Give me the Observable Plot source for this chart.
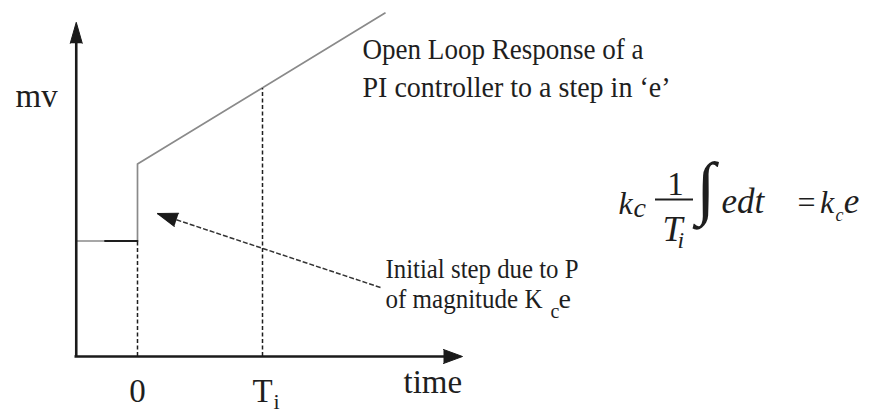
<!DOCTYPE html>
<html>
<head>
<meta charset="utf-8">
<script src="https://cdn.jsdelivr.net/npm/d3@7"></script>
<script src="https://cdn.jsdelivr.net/npm/@observablehq/plot@0.6"></script>
<style>
  html, body { margin: 0; padding: 0; background: #fff; }
  #chart { width: 877px; height: 414px; }
</style>
</head>
<body>
<div id="chart"></div>
<script>
// ---------- data (time in units of Ti, mv in units of kc*e) ----------
const stepTime = [-0.49, 0, 0, 1.98];
const stepMv   = [1.5, 1.5, 2.5, 4.46];
const darkTime = [-0.26, 0];          // darker part of the initial level
const darkMv   = [1.5, 1.5];
const guideTimes = [0, 1];            // dashed verticals at 0 and Ti
const guideMv    = [1.5, 3.48];
const tickTimes  = [0, 1];
const tickLabels = ["0", "T"];
const tickSub    = "i";
const axisOrigin = -0.49, axisEndTime = 2.6, axisTopMv = 4.34;
const axisTitles = ["mv", "time"];
const noteLines  = ["Open Loop Response of a", "PI controller to a step in \u2018e\u2019"];
const stepNote   = ["Initial step due to P", "of magnitude K"];
const pointer    = {t1: 1.944, mv1: 0.896, t2: 0.16, mv2: 1.857};

// ---------- layout ----------
const X0 = 137, X1 = 262, Y0 = 356, Y1 = 279;   // pixel range for domain [0,1]
const sx = X1 - X0, sy = Y0 - Y1;
const ang = (dt, dm) => Math.atan2(dt * sx, dm * sy) * 180 / Math.PI;
const ink = "#1e1e1e";
const serif = "'Liberation Serif', 'Times New Roman', serif";

const step = stepTime.map((t, i) => ({t, mv: stepMv[i]}));
const dark = darkTime.map((t, i) => ({t, mv: darkMv[i]}));
const guides = guideTimes.map((t, i) => ({t, mv: guideMv[i]}));

function txt(s, t, mv, o = {}) {
  return Plot.text([{s, t, mv}], {
    x: "t", y: "mv", text: "s", textAnchor: "start", lineAnchor: "bottom",
    fill: ink, fontFamily: serif, ...o
  });
}
function head(t, mv, rot, len, r) {
  return Plot.vector([{t, mv, rot}], {x: "t", y: "mv", rotate: "rot", length: () => len, r, shape: "spike",
    anchor: "end", fill: "#1a1a1a", stroke: "#1a1a1a", strokeWidth: 1});
}

const plot = Plot.plot({
  width: 877, height: 414, margin: 0,
  x: {domain: [0, 1], range: [X0, X1], axis: null},
  y: {domain: [0, 1], range: [Y0, Y1], axis: null},
  length: {type: "identity"},
  style: {background: "#fff", fontFamily: serif},
  marks: [
    // response
    Plot.line(step, {x: "t", y: "mv", stroke: "#8a8a8a", strokeWidth: 1.7}),
    Plot.line(dark, {x: "t", y: "mv", stroke: ink, strokeWidth: 1.8}),
    // dashed guides
    Plot.ruleX(guides, {x: "t", y1: 0, y2: "mv", stroke: ink, strokeWidth: 1.5, strokeDasharray: "4,2.5"}),
    // axes
    Plot.ruleX([axisOrigin], {x: d => d, y1: 0, y2: axisTopMv - 0.15, stroke: "#1a1a1a", strokeWidth: 2.6}),
    Plot.ruleY([0], {y: d => d, x1: axisOrigin - 0.01, x2: axisEndTime - 0.1, stroke: "#1a1a1a", strokeWidth: 2.6}),
    // pointer
    Plot.link([pointer], {x1: "t1", y1: "mv1", x2: "t2", y2: "mv2", stroke: "#333", strokeWidth: 1.5, strokeDasharray: "5,2"}),
    head(axisOrigin, axisTopMv, ang(0, 1), 21, 6),
    head(axisEndTime, 0, ang(1, 0), 19, 7),
    head(pointer.t2, pointer.mv2, ang(pointer.t2 - pointer.t1, pointer.mv2 - pointer.mv1), 20, 7),
    // tick labels
    Plot.text(tickTimes.map((t, i) => ({t, s: tickLabels[i]})), {x: "t", y: () => -0.597, text: "s",
      textAnchor: "middle", lineAnchor: "bottom", fontSize: 33, fill: ink, fontFamily: serif}),
    txt(tickSub, 1.088, -0.68, {fontSize: 22}),
    // axis titles
    txt(axisTitles[0], -0.976, 3.234, {fontSize: 33}),
    txt(axisTitles[1], 2.128, -0.468, {fontSize: 33}),
    // notes
    txt(noteLines[0], 1.8, 3.87, {fontSize: 29}),
    txt(noteLines[1], 1.8, 3.364, {fontSize: 29}),
    txt(stepNote[0], 1.984, 1.013, {fontSize: 28}),
    txt(stepNote[1], 1.984, 0.636, {fontSize: 28}),
    txt("c", 3.304, 0.494, {fontSize: 20}),
    txt("e", 3.368, 0.636, {fontSize: 28}),
    // formula
    txt("k", 3.848, 1.857, {fontSize: 32, fontStyle: "italic"}),
    txt("c", 3.968, 1.818, {fontSize: 28, fontStyle: "italic"}),
    txt("1", 4.304, 2.091, {fontSize: 33, textAnchor: "middle"}),
    Plot.ruleY([2.039], {y: d => d, x1: 4.144, x2: 4.448, stroke: ink, strokeWidth: 2}),
    txt("T", 4.2, 1.506, {fontSize: 36, fontStyle: "italic"}),
    txt("i", 4.32, 1.403, {fontSize: 24, fontStyle: "italic"}),
    txt("\u222B", 4.47, 1.896, {fontSize: 70}),
    txt("edt", 4.672, 1.87, {fontSize: 35, fontStyle: "italic"}),
    txt("=", 5.28, 1.87, {fontSize: 32}),
    txt("k", 5.46, 1.87, {fontSize: 32, fontStyle: "italic"}),
    txt("c", 5.584, 1.766, {fontSize: 18, fontStyle: "italic"}),
    txt("e", 5.65, 1.87, {fontSize: 35, fontStyle: "italic"})
  ]
});

// condense the annotation texts to the widths seen in the picture
const widths = new Map([
  [noteLines[0], 281], [noteLines[1], 308], [stepNote[0], 193], [stepNote[1], 157]
]);
d3.select(plot).selectAll("text").each(function () {
  const w = widths.get(this.textContent);
  if (w) { this.setAttribute("textLength", w); this.setAttribute("lengthAdjust", "spacingAndGlyphs"); }
});

document.getElementById("chart").appendChild(plot);
</script>
</body>
</html>
